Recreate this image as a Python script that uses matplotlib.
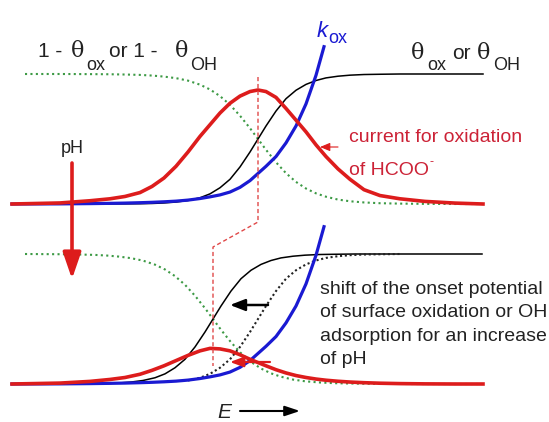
#!/usr/bin/env python3
# Schematic: coverage, rate constant and formate oxidation current vs E, two pH values
import numpy as np
import matplotlib.pyplot as plt

# potential axis (image-pixel units along E), shared by the read-off curves
E = [12, 60, 90, 110, 125, 140, 152, 164, 176, 188, 200, 210, 220, 230, 240, 250,
     258, 266, 276, 286, 296, 306, 316, 326, 338, 350, 364, 380, 400, 425, 455, 483]
# theta_ox / theta_OH (black, normalised 0..1)
theta = [0, 0, 0, 0.0005, 0.001, 0.002, 0.004, 0.008, 0.015, 0.027, 0.048, 0.078,
         0.125, 0.19, 0.285, 0.40, 0.50, 0.60, 0.715, 0.81, 0.875, 0.92, 0.95, 0.97,
         0.983, 0.991, 0.996, 0.998, 1, 1, 1, 1]
# 1 - theta (green dotted)
free_sites = [1, 1, 0.999, 0.998, 0.996, 0.993, 0.988, 0.98, 0.968, 0.949, 0.918, 0.881,
              0.83, 0.763, 0.679, 0.583, 0.50, 0.417, 0.321, 0.237, 0.17, 0.119, 0.082,
              0.056, 0.034, 0.021, 0.012, 0.006, 0.003, 0.001, 0, 0]
# current for oxidation of HCOO- (red), upper and lower panel
current_top = [0, 0.008, 0.025, 0.04, 0.058, 0.088, 0.135, 0.20, 0.29, 0.40, 0.52, 0.61,
               0.70, 0.775, 0.83, 0.865, 0.877, 0.865, 0.82, 0.735, 0.645, 0.555, 0.455,
               0.365, 0.27, 0.19, 0.11, 0.065, 0.04, 0.02, 0.007, 0]
current_bot = [0, 0.007, 0.02, 0.035, 0.05, 0.075, 0.105, 0.14, 0.18, 0.22, 0.255, 0.274,
               0.27, 0.255, 0.225, 0.19, 0.165, 0.14, 0.11, 0.085, 0.065, 0.05, 0.038,
               0.029, 0.021, 0.015, 0.01, 0.006, 0.003, 0.001, 0, 0]
# k_ox (blue)
k_E = [12, 60, 90, 110, 125, 140, 152, 164, 176, 188, 200, 210, 220, 230, 240, 250,
       258, 266, 276, 286, 296, 306, 316, 324]
k_ox = [0, 0.001, 0.003, 0.005, 0.007, 0.01, 0.013, 0.017, 0.022, 0.03, 0.042, 0.055,
        0.07, 0.092, 0.128, 0.18, 0.235, 0.29, 0.365, 0.47, 0.60, 0.77, 0.99, 1.21]
onset_shift = 45      # shift of the onset potential with pH
peak_E = 258

RED = '#dd1c1c'
BLUE = '#1a1ad2'
GREEN = '#3d9a45'
TXT = '#222222'
TRED = '#cc2236'

BASE_TOP, BASE_BOT, H = 204, 384, 130
X_LEFT, X_GREEN, X_RIGHT = 12, 25, 482

def yy(v, base):
    return base - H * np.asarray(v, dtype=float)

E = np.array(E, dtype=float)
theta = np.array(theta)
free_sites = np.array(free_sites)

fig = plt.figure(figsize=(5.49, 4.22), dpi=100)
ax = fig.add_axes([0, 0, 1, 1])
ax.set_xlim(0, 549)
ax.set_ylim(422, 0)
ax.axis('off')

dots = (0, (1, 1.6))
smooth = dict(solid_joinstyle='round', dash_joinstyle='round')

# ---- upper panel
xg = E.copy(); xg[0] = X_GREEN
ax.plot(xg, yy(free_sites, BASE_TOP), color=GREEN, lw=1.5, ls=dots, zorder=1)
ax.plot(E, yy(theta, BASE_TOP), color='k', lw=1.1, zorder=2, **smooth)
ax.plot(k_E, yy(k_ox, BASE_TOP), color=BLUE, lw=2.3, zorder=3, **smooth)
ax.plot(E, yy(current_top, BASE_TOP), color=RED, lw=2.6, zorder=4, **smooth)

# ---- lower panel
Es = E - onset_shift
m = Es >= X_LEFT
ax.plot(np.r_[X_LEFT, Es[m], X_RIGHT], yy(np.r_[0, theta[m], 1], BASE_BOT),
        color='k', lw=1.1, zorder=2, **smooth)
m = Es >= X_GREEN
ax.plot(np.r_[X_GREEN, Es[m], X_RIGHT], yy(np.r_[1, free_sites[m], 0], BASE_BOT),
        color=GREEN, lw=1.5, ls=dots, zorder=1)
m = (E >= 188) & (E <= 400)
ax.plot(E[m], yy(theta[m], BASE_BOT), color=TXT, lw=1.5, ls=(0, (1, 1.3)), zorder=2)
ax.plot(k_E, yy(k_ox, BASE_BOT), color=BLUE, lw=2.3, zorder=3, **smooth)
ax.plot(E, yy(current_bot, BASE_BOT), color=RED, lw=2.6, zorder=4, **smooth)

# dashed guide through the current maxima
pb = peak_E - onset_shift
ax.plot([peak_E, peak_E, pb, pb], [77, 222, 247, 366], color='#e04848',
        lw=1.0, ls=(0, (3, 2)), zorder=5)

# arrows
def arrow(x0, y0, x1, y1, color, lw, hl, hw):
    ax.annotate('', xy=(x1, y1), xytext=(x0, y0),
                arrowprops=dict(arrowstyle='-|>,head_length=%g,head_width=%g' % (hl, hw),
                                color=color, lw=lw, shrinkA=0, shrinkB=0),
                zorder=6)

arrow(72, 163, 72, 279, RED, 2.6, 1.6, 0.55)
arrow(268, 305, 230, 305, 'k', 1.8, 0.9, 0.35)
arrow(338, 147, 320, 147, RED, 0.8, 0.6, 0.25)
arrow(270, 362, 230, 362, RED, 1.6, 0.8, 0.3)
arrow(240, 411, 300, 411, 'k', 1.5, 0.9, 0.3)

# text
SANS = 'Liberation Sans'
GREEK = 'DejaVu Serif'

def txt(x, y, s, size, color=TXT, family=SANS, **kw):
    ax.text(x, y, s, fontsize=size, color=color, family=family,
            ha=kw.pop('ha', 'left'), va='baseline', **kw)

txt(38, 57, '1 -', 15)
txt(71, 57, 'θ', 16, family=GREEK)
txt(86, 70, 'ox', 13)
txt(109, 57, 'or 1 -', 15)
txt(175, 57, 'θ', 16, family=GREEK)
txt(190, 70, 'OH', 13)

txt(411, 59, 'θ', 16, family=GREEK)
txt(427, 70, 'ox', 13)
txt(452, 59, 'or', 15)
txt(477, 59, 'θ', 16, family=GREEK)
txt(493, 70, 'OH', 13)

txt(317, 37, 'k', 16, color=BLUE, style='italic')
txt(328, 43, 'ox', 13, color=BLUE)

txt(72, 153, 'pH', 13, ha='center')

txt(349, 142, 'current for oxidation', 14, color=TRED)
txt(349, 175, 'of HCOO', 14, color=TRED)
txt(429, 165, '-', 9, color=TRED)

for yb, line in zip([294, 317, 341, 364],
                    ['shift of the onset potential', 'of surface oxidation or OH',
                     'adsorption for an increase', 'of pH']):
    txt(320, yb, line, 14)

txt(217, 418, 'E', 15, style='italic')

fig.savefig('out.png', dpi=100)
